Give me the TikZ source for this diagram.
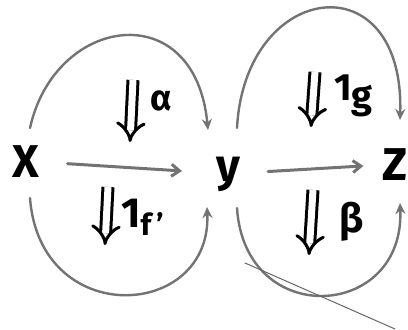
\documentclass[tikz,border=0pt]{standalone}
\usepackage{fontspec}
\setmainfont{Fira Sans}
\usetikzlibrary{arrows.meta}
\begin{document}
\begin{tikzpicture}[x=1pt,y=-1pt,
  obj/.style={font=\fontsize{46}{50}\selectfont\bfseries, inner sep=0pt, anchor=base},
  sketch/.style={draw=black!55, line width=2.4pt, line cap=round, -{Stealth[length=11pt,width=10pt]}},
  straight/.style={draw=black!55, line width=3pt, line cap=round, -{Straight Barb[length=8pt,width=12pt]}},
  cellarrow/.style={draw=black, line width=3pt, double distance=7pt, -{Implies}},
  lab/.style={inner sep=0pt},
  stray/.style={draw=black!60, line width=1pt, line cap=round},
]
\useasboundingbox (0,0) rectangle (408,330);

% objects
\node[obj] (X) at (26,177) {X};
\node[obj] (Y) at (228,181) {y};
\node[obj] (Z) at (395,180) {Z};

% 1-cells: straight
\draw[straight, shorten <=28pt, shorten >=34pt] (X) -- (Y);
\draw[straight, shorten <=28pt, shorten >=19pt] (Y) -- (Z);

% arc end points
\coordinate (xt) at (30,128);
\coordinate (yt1) at (208,130);
\coordinate (xb) at (30,198);
\coordinate (yb1) at (207,207);
\coordinate (yt2) at (237,128);
\coordinate (zt) at (400,120);
\coordinate (yb2) at (237,208);
\coordinate (zb) at (400,203);

% curved 1-cells
\draw[sketch] (xt) .. controls (55,15) and (195,-5) .. (yt1);
\draw[sketch] (xb) .. controls (40,330) and (212,320) .. (yb1);
\draw[sketch] (yt2) .. controls (245,-20) and (405,-40) .. (zt);
\draw[sketch] (yb2) .. controls (245,330) and (405,320) .. (zb);

% 2-cells
\coordinate (a1) at (133,80);  \coordinate (a2) at (130,142);
\coordinate (g1) at (315,72);  \coordinate (g2) at (311,127);
\coordinate (f1) at (108,187); \coordinate (f2) at (105,245);
\coordinate (b1) at (313,190); \coordinate (b2) at (309,255);
\draw[cellarrow] (a1) -- (a2);
\draw[cellarrow] (g1) -- (g2);
\draw[cellarrow] (f1) -- (f2);
\draw[cellarrow] (b1) -- (b2);

% labels
\node[lab, font=\fontsize{36}{36}\selectfont\bfseries] (la) at (161,101) {α};
\node[lab, anchor=base west, font=\fontsize{38}{38}\selectfont\bfseries] (lg) at (334,100) {1\raisebox{-8pt}{g}};
\node[lab, anchor=base west, font=\fontsize{42}{42}\selectfont\bfseries] (lf) at (121,227) {1\raisebox{-8pt}{\fontsize{30}{30}\selectfont f\,'}};
\node[lab, font=\fontsize{40}{40}\selectfont\bfseries] (lb) at (352,222) {β};

% stray pen stroke
\coordinate (s1) at (245,263);
\coordinate (s2) at (395,329);
\draw[stray] (s1) -- (s2);
\end{tikzpicture}
\end{document}
